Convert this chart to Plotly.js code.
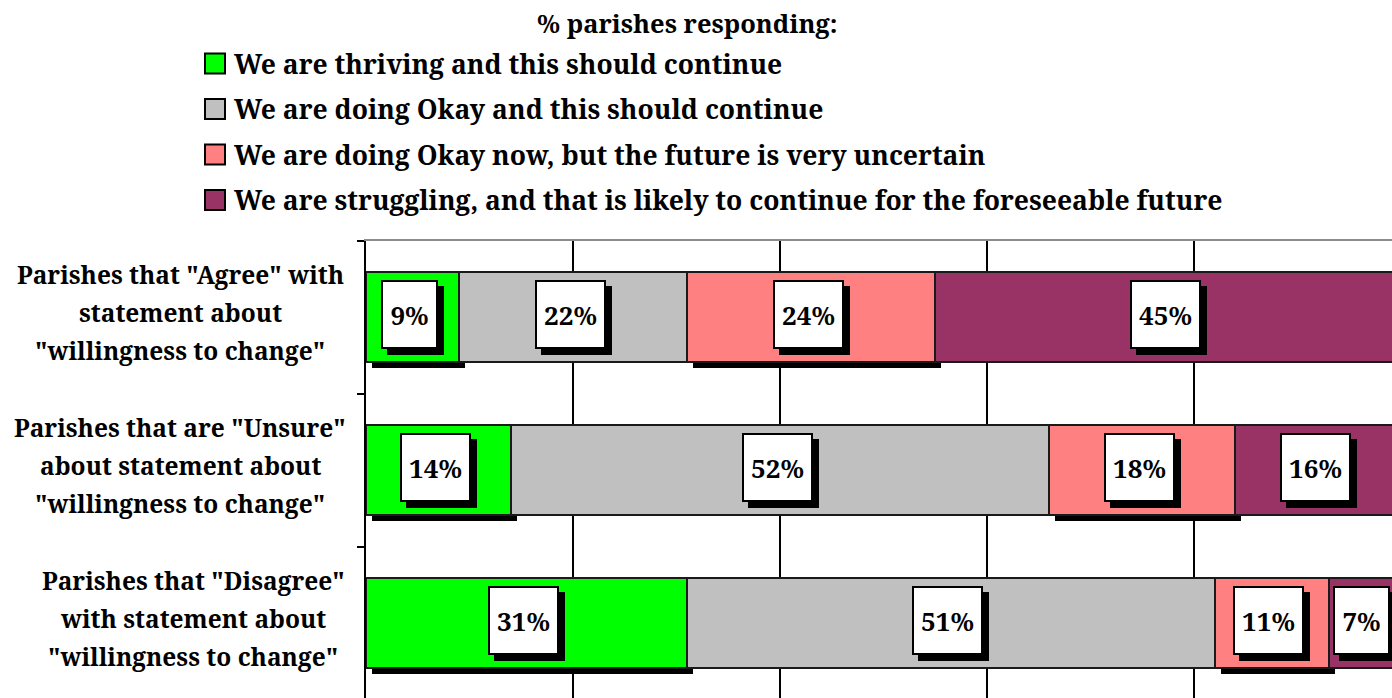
<!DOCTYPE html>
<html><head><meta charset="utf-8">
<script src="https://cdn.plot.ly/plotly-3.0.1.min.js"></script>
<style>html,body{margin:0;padding:0;background:#fff}#chart{width:1392px;height:698px}</style>
</head><body><div id="chart"></div>
<script>
// ---- data ----
const categories = [
  'Parishes that "Agree" with<br>statement about<br>"willingness to change"',
  'Parishes that are "Unsure"<br>about statement about<br>"willingness to change"',
  'Parishes that "Disagree"<br>with statement about<br>"willingness to change"'
];
const seriesNames = [
  'We are thriving and this should continue',
  'We are doing Okay and this should continue',
  'We are doing Okay now, but the future is very uncertain',
  'We are struggling, and that is likely to continue for the foreseeable future'
];
const thriving      = [9, 14, 31];
const okayContinue  = [22, 52, 51];
const okayUncertain = [24, 18, 11];
const struggling    = [45, 16, 7];
const legendTitle = '% parishes responding:';
const seriesColors = ['#00FF00', '#C0C0C0', '#FF8080', '#993366'];

// ---- geometry / style ----
const FONT = '"Noto Serif", serif';
const W = 1392, H = 698, L = 366, T = 241;
const plotW = W - L, plotH = H - T;
const pxPerPct = 10.35;            // 20% per 207 px
const xMax = plotW / pxPerPct;     // right edge cut at ~99%
const bandPx = 152.8;
const yTop = -0.5, yBot = yTop + plotH / bandPx;
const SH = 6;                      // shadow offset px
const dx = SH / pxPerPct, dy = SH / bandPx;
const px2x = p => (p - L) / plotW;
const px2y = p => 1 - (p - T) / plotH;

const LABEL_SIZE = 26;
const ctx = document.createElement('canvas').getContext('2d');
ctx.font = 'bold ' + LABEL_SIZE + 'px ' + FONT;
const textW = s => Math.ceil(ctx.measureText(s).width) + 2;

const seriesValues = [thriving, okayContinue, okayUncertain, struggling];
const hasShadow = [true, false, true, false];

const traces = [];
// shadow bars (drawn first, on shifted base axes)
seriesValues.forEach((vals, i) => {
  traces.push({
    type: 'bar', orientation: 'h', x: vals, y: categories, xaxis: 'x', yaxis: 'y',
    marker: {color: hasShadow[i] ? '#000' : 'rgba(0,0,0,0)', line: {width: 0}},
    showlegend: false, hoverinfo: 'skip'
  });
});
// main bars
seriesValues.forEach((vals, i) => {
  traces.push({
    type: 'bar', orientation: 'h', name: seriesNames[i], x: vals, y: categories,
    xaxis: 'x2', yaxis: 'y2',
    marker: {color: seriesColors[i], line: {color: '#1a1a1a', width: 2}},
    showlegend: false
  });
});

const annotations = [];
const shapes = [];

// data labels with drop shadow
const cum = categories.map(() => 0);
seriesValues.forEach((vals, i) => {
  vals.forEach((v, j) => {
    const xc = cum[j] + v / 2;
    cum[j] += v;
    const txt = v + '%';
    const base = {
      xref: 'x2', yref: 'y2', x: xc, y: categories[j],
      showarrow: false, borderpad: 6, borderwidth: 2, height: 53, width: textW(txt),
      font: {family: FONT, size: LABEL_SIZE, color: '#000'}
    };
    annotations.push(Object.assign({}, base, {text: ' ', bgcolor: '#000', bordercolor: '#000', xshift: SH / 2, yshift: -SH / 2}));
    annotations.push(Object.assign({}, base, {text: '<b>' + txt + '</b>', bgcolor: '#fff', bordercolor: '#000', xshift: -SH / 2, yshift: SH / 2}));
  });
});

// category labels (centered, one annotation per line)
const labelCenters = [180, 180, 193];
const lineShifts = [42.5, 4.5, -33.5];
categories.forEach((c, j) => {
  c.split('<br>').forEach((line, k) => {
    annotations.push({
      xref: 'paper', yref: 'y2', x: px2x(labelCenters[j]), y: c, xanchor: 'center', yanchor: 'middle',
      yshift: lineShifts[k], text: '<b>' + line + '</b>', showarrow: false,
      font: {family: FONT, size: 24.5, color: '#000'}
    });
  });
});

// legend title
annotations.push({
  xref: 'paper', yref: 'paper', x: px2x(687), y: px2y(23), xanchor: 'center', yanchor: 'middle',
  text: '<b>' + legendTitle + '</b>', showarrow: false, font: {family: FONT, size: 25.5, color: '#000'}
});
// legend items
const legendRows = [63.5, 109, 154.5, 200];
seriesNames.forEach((n, i) => {
  const cy = legendRows[i];
  shapes.push({
    type: 'rect', xref: 'paper', yref: 'paper',
    x0: px2x(205), x1: px2x(225), y0: px2y(cy + 10), y1: px2y(cy - 10),
    fillcolor: seriesColors[i], line: {color: '#000', width: 2}
  });
  annotations.push({
    xref: 'paper', yref: 'paper', x: px2x(232), y: px2y(cy), xanchor: 'left', yanchor: 'middle',
    text: '<b>' + n + '</b>', showarrow: false, font: {family: FONT, size: 26.5, color: '#000'}
  });
});

const layout = {
  width: W, height: H,
  margin: {l: L, r: 0, t: T, b: 0, pad: 0},
  paper_bgcolor: '#fff', plot_bgcolor: '#fff',
  barmode: 'stack', bargap: 0.41, showlegend: false,
  font: {family: FONT, color: '#000'},
  xaxis: {range: [-dx, xMax - dx], side: 'top', showline: true, linecolor: '#8c8c8c', linewidth: 2,
          showgrid: false, zeroline: false, showticklabels: false, ticks: '', fixedrange: true},
  yaxis: {type: 'category', categoryorder: 'array', categoryarray: categories,
          range: [yBot - dy, yTop - dy], visible: false, fixedrange: true},
  xaxis2: {overlaying: 'x', anchor: 'y2', range: [0, xMax], showgrid: true, gridcolor: '#000', gridwidth: 2,
           dtick: 20, tick0: 0, zeroline: false, showticklabels: false, ticks: '', showline: false, fixedrange: true},
  yaxis2: {overlaying: 'y', anchor: 'x2', type: 'category', categoryorder: 'array', categoryarray: categories,
           range: [yBot, yTop], showline: true, linecolor: '#000', linewidth: 2, ticks: 'outside',
           tickson: 'boundaries', ticklen: 7, tickwidth: 2, tickcolor: '#000', showticklabels: false,
           showgrid: false, zeroline: false, fixedrange: true},
  annotations: annotations,
  shapes: shapes
};

Plotly.newPlot('chart', traces, layout, {displayModeBar: false, staticPlot: true});
</script></body></html>
